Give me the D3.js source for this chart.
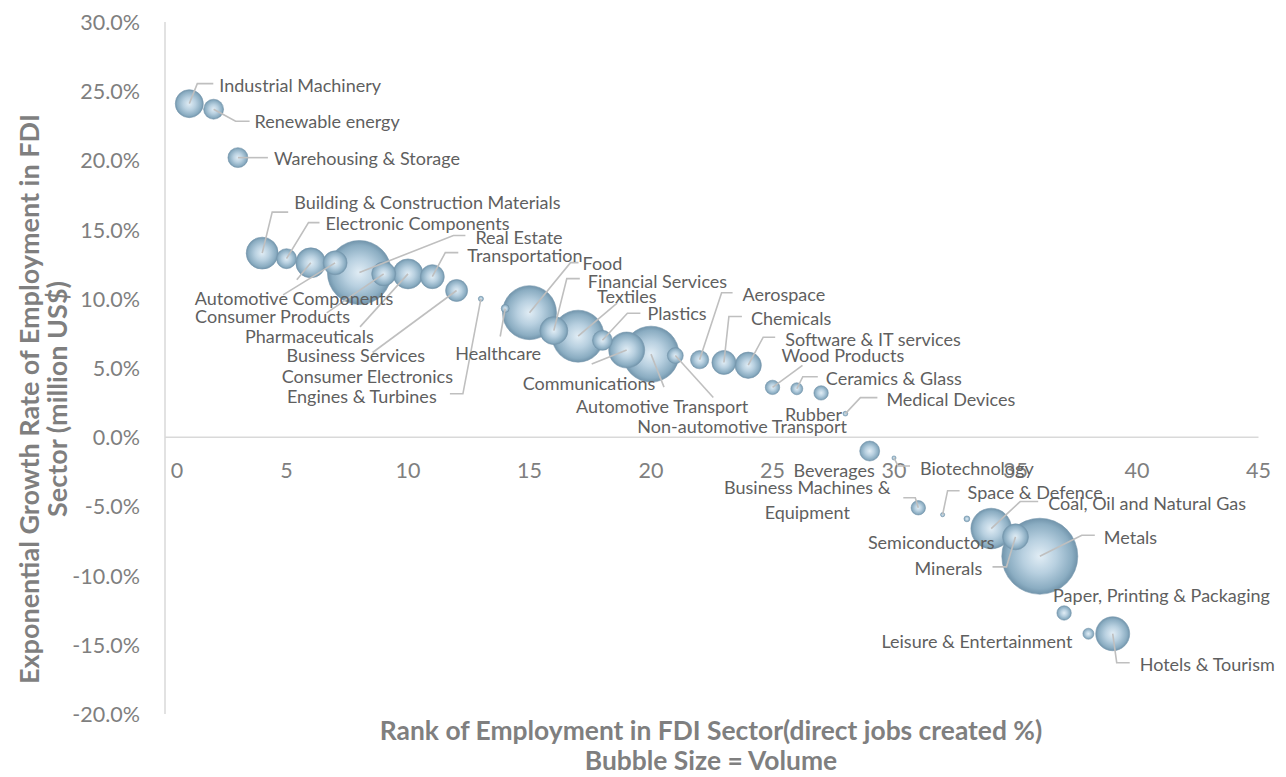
<!DOCTYPE html>
<html>
<head>
<meta charset="utf-8">
<script src="https://cdn.jsdelivr.net/npm/d3@7/dist/d3.min.js"></script>
<style>
  html, body { margin: 0; padding: 0; background: #ffffff; }
  svg { display: block; }
  text { font-family: Lato, "Noto Sans", sans-serif; }
</style>
</head>
<body>
<svg id="chart" width="1286" height="777"></svg>
<script>
// ---------------- DATA ----------------
const sectors = [
  "Industrial Machinery", "Renewable energy", "Warehousing & Storage",
  "Building & Construction Materials", "Electronic Components", "Automotive Components",
  "Consumer Products", "Real Estate", "Consumer Electronics", "Pharmaceuticals",
  "Transportation", "Business Services", "Engines & Turbines", "Healthcare", "Food",
  "Financial Services", "Textiles", "Plastics", "Communications", "Automotive Transport",
  "Non-automotive Transport", "Aerospace", "Chemicals", "Software & IT services",
  "Wood Products", "Ceramics & Glass", "Rubber", "Medical Devices", "Beverages",
  "Biotechnology", "Business Machines & Equipment", "Space & Defence", "Semiconductors",
  "Coal, Oil and Natural Gas", "Minerals", "Metals", "Paper, Printing & Packaging",
  "Leisure & Entertainment", "Hotels & Tourism"
];
const employmentRank = [
  1, 2, 3, 4, 5, 6, 7, 8, 9, 10, 11, 12, 13, 14, 15, 16, 17, 18, 19, 20,
  21, 22, 23, 24, 25, 26, 27, 28, 29, 30, 31, 32, 33, 34, 35, 36, 37, 38, 39
];
const growthRate = [
  0.241, 0.237, 0.202, 0.133, 0.129, 0.126, 0.126, 0.119, 0.118, 0.118,
  0.116, 0.106, 0.100, 0.093, 0.090, 0.077, 0.073, 0.070, 0.063, 0.060,
  0.059, 0.056, 0.054, 0.052, 0.036, 0.035, 0.032, 0.017, -0.010, -0.015,
  -0.051, -0.056, -0.059, -0.066, -0.072, -0.086, -0.127, -0.142, -0.142
];
const volume = [
  13.6, 6.9, 6.9, 17.7, 6.9, 15.6, 10.0, 71.0, 10.0, 15.6,
  10.0, 8.4, 0.45, 1.1, 50.5, 13.6, 46.8, 6.9, 22.4, 54.3,
  4.4, 5.8, 10.0, 12.0, 3.6, 2.5, 3.6, 0.4, 6.9, 0.3,
  3.6, 0.3, 0.6, 28.5, 11.7, 100.0, 3.6, 2.1, 20.0
];
const xTicks = [0, 5, 10, 15, 20, 25, 30, 35, 40, 45];
const yTicks = [-0.20, -0.15, -0.10, -0.05, 0, 0.05, 0.10, 0.15, 0.20, 0.25, 0.30];
const xTitle = ["Rank of Employment in FDI Sector(direct jobs created %)", "Bubble Size = Volume"];
const yTitle = ["Exponential Growth Rate of Employment in FDI", "Sector (million US$)"];

// ------------- LABEL LAYOUT (pixel offsets from bubble centre) -------------
// [dx, dy, anchor, leader elbow points as offsets]
const labelLayout = {
  "Industrial Machinery": [30, -19, "start", [[24, -20], [8, -20]]],
  "Renewable energy": [41, 12, "start", [[36, 12], [22, 12]]],
  "Warehousing & Storage": [36, 0, "start", [[30, 0]]],
  "Building & Construction Materials": [32, -51, "start", [[26, -41], [10, -41]]],
  "Electronic Components": [39, -36, "start", [[33, -36], [22, -36]]],
  "Automotive Components": [-116, 35, "start", [[-14, 17]]],
  "Consumer Products": [-140, 53, "start", [[-52, 32]]],
  "Real Estate": [116, -36, "start", [[106, -37], [94, -37]]],
  "Consumer Electronics": [-102, 102, "start", [[-57, 39]]],
  "Pharmaceuticals": [-163, 62, "start", [[-48, 53]]],
  "Transportation": [35, -22, "start", [[26, -24], [13, -24]]],
  "Business Services": [-170, 65, "start", [[-84, 62]]],
  "Engines & Turbines": [-194, 97, "start", [[-31, 95], [-18, 95]]],
  "Healthcare": [-50, 45, "start", [[-5, 28]]],
  "Food": [53, -50, "start", [[49, -50], [41, -50]]],
  "Financial Services": [34, -50, "start", [[26, -52], [13, -52]]],
  "Textiles": [19, -40, "start", [[39, -33]]],
  "Plastics": [45, -27, "start", [[38, -27], [25, -27]]],
  "Communications": [-104, 33, "start", [[-35, 14]]],
  "Automotive Transport": [-75, 52, "start", [[13, 33]]],
  "Non-automotive Transport": [-38, 70, "start", [[38, 42]]],
  "Aerospace": [43, -66, "start", [[33, -67], [22, -67]]],
  "Chemicals": [27, -44, "start", [[18, -46], [5, -46]]],
  "Software & IT services": [37, -26, "start", [[27, -28], [15, -28]]],
  "Wood Products": [9, -32, "start", [[30, -22]]],
  "Ceramics & Glass": [29, -11, "start", [[21, -12], [6, -12]]],
  "Rubber": [21, 21, "end", []],
  "Medical Devices": [41, -15, "start", [[32, -16], [15, -16]]],
  "Beverages": [5, 19, "end", []],
  "Biotechnology": [26, 10, "start", [[16, 8], [4, 8]]],
  "Business Machines & Equipment": [-111, -21, "middle", [[-15, -10], [-3, -10]]],
  "Space & Defence": [25, -23, "start", [[17, -24], [5, -24]]],
  "Semiconductors": [-99, 23, "start", []],
  "Coal, Oil and Natural Gas": [57, -26, "start", [[47, -27], [29, -27]]],
  "Minerals": [-101, 31, "start", [[-23, 30], [-9, 30]]],
  "Metals": [64, -19, "start", [[55, -21], [42, -21]]],
  "Paper, Printing & Packaging": [-11, -18, "start", []],
  "Leisure & Entertainment": [-16, 7, "end", []],
  "Hotels & Tourism": [27, 30, "start", [[17, 29], [4, 29]]]
};
const multiLine = { "Business Machines & Equipment": ["Business Machines &", "Equipment"] };

// ---------------- CHART ----------------
const svg = d3.select("#chart");
const x = d3.scaleLinear().domain([0, 45]).range([165, 1258.5]);
const y = d3.scaleLinear().domain([-0.2, 0.3]).range([714, 22]);
const r = d3.scaleSqrt().domain([0, 100]).range([0, 38]);

const data = sectors.map((s, i) => ({
  name: s, rank: employmentRank[i], growth: growthRate[i], vol: volume[i]
}));

// gradient
const defs = svg.append("defs");
const grad = defs.append("radialGradient").attr("id", "bub")
  .attr("cx", "50%").attr("cy", "50%").attr("r", "50%");
grad.append("stop").attr("offset", "0%").attr("stop-color", "#e1edf5");
grad.append("stop").attr("offset", "45%").attr("stop-color", "#b8d0e0");
grad.append("stop").attr("offset", "85%").attr("stop-color", "#8badc2");
grad.append("stop").attr("offset", "100%").attr("stop-color", "#7194ab");

// axes lines
svg.append("line").attr("x1", x(0)).attr("x2", x(0)).attr("y1", y(0.3)).attr("y2", y(-0.2))
  .attr("stroke", "#d9d9d9").attr("stroke-width", 1.5);
svg.append("line").attr("x1", x(0)).attr("x2", x(45)).attr("y1", y(0)).attr("y2", y(0))
  .attr("stroke", "#d9d9d9").attr("stroke-width", 1.5);

// y tick labels
const pct = d3.format(".1%");
svg.append("g").selectAll("text").data(yTicks).join("text")
  .attr("x", 140).attr("y", d => y(d))
  .attr("text-anchor", "end").attr("dominant-baseline", "central")
  .attr("font-size", 21.5).attr("fill", "#7f7f7f")
  .text(d => pct(d).replace("\u2212", "-"));

// x tick labels
svg.append("g").selectAll("text").data(xTicks).join("text")
  .attr("x", d => x(d) + (d === 0 ? 12 : 0)).attr("y", y(0) + 33)
  .attr("text-anchor", "middle").attr("dominant-baseline", "central")
  .attr("font-size", 21.5).attr("fill", "#7f7f7f")
  .text(d => d);

// bubbles (largest drawn first)
const sorted = data.slice().sort((a, b) => b.vol - a.vol);
svg.append("g").selectAll("circle").data(sorted).join("circle")
  .attr("cx", d => x(d.rank)).attr("cy", d => y(d.growth)).attr("r", d => r(d.vol))
  .attr("fill", "url(#bub)").attr("stroke", "#7898ae").attr("stroke-width", 0.6);

// leader lines
const lg = svg.append("g");
data.forEach(d => {
  const L = labelLayout[d.name];
  if (!L || L[3].length === 0) return;
  const cx = x(d.rank), cy = y(d.growth);
  const pts = L[3].map(p => [cx + p[0], cy + p[1]]);
  pts.push([cx, cy]);
  lg.append("path").attr("d", d3.line()(pts))
    .attr("fill", "none").attr("stroke", "#bfbfbf").attr("stroke-width", 1.6);
});

// data labels
const tg = svg.append("g");
data.forEach(d => {
  const L = labelLayout[d.name];
  const cx = x(d.rank), cy = y(d.growth);
  const lines = multiLine[d.name] || [d.name];
  lines.forEach((t, k) => {
    tg.append("text").attr("x", cx + L[0]).attr("y", cy + L[1] + k * 25)
      .attr("text-anchor", L[2]).attr("dominant-baseline", "central")
      .attr("font-size", 18).attr("fill", "#5f5f5f").text(t);
  });
});

// axis titles
svg.append("g").selectAll("text").data(xTitle).join("text")
  .attr("x", 711).attr("y", (d, i) => 730 + i * 30)
  .attr("text-anchor", "middle").attr("dominant-baseline", "central")
  .attr("font-size", 26.4).attr("font-weight", "bold").attr("fill", "#7f7f7f")
  .text(d => d);
svg.append("g").selectAll("text").data(yTitle).join("text")
  .attr("transform", (d, i) => `translate(${28 + i * 28},399) rotate(-90)`)
  .attr("text-anchor", "middle").attr("dominant-baseline", "central")
  .attr("font-size", 27).attr("font-weight", "bold").attr("fill", "#7f7f7f")
  .text(d => d);
</script>
</body>
</html>
